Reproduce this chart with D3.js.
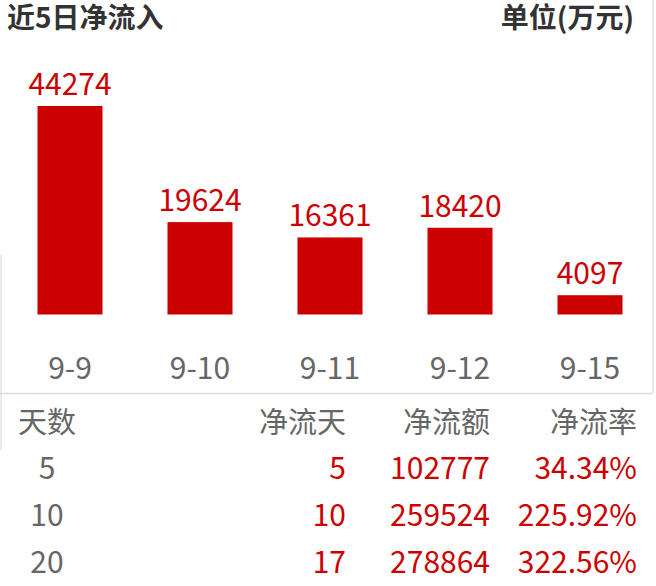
<!DOCTYPE html>
<html>
<head>
<meta charset="utf-8">
<script src="https://cdn.jsdelivr.net/npm/d3@7"></script>
<style>
  body { margin: 0; background: #fff; }
  svg { display: block; font-family: "Noto Sans CJK SC", "Noto Sans", sans-serif; }
</style>
</head>
<body>
<svg width="656" height="586"></svg>
<script>
var dates = ["9-9", "9-10", "9-11", "9-12", "9-15"];
var flows = [44274, 19624, 16361, 18420, 4097];

var headers = ["天数", "净流天", "净流额", "净流率"];
var days = ["5", "10", "20"];
var netDays = ["5", "10", "17"];
var amounts = ["102777", "259524", "278864"];
var rates = ["34.34%", "225.92%", "322.56%"];

var red = "#cc0000";
var svg = d3.select("svg");

// frame lines
svg.append("line").attr("x1", 653).attr("x2", 653).attr("y1", 0).attr("y2", 393)
  .attr("stroke", "#e3e3e3").attr("stroke-width", 1.5);
svg.append("line").attr("x1", 1).attr("x2", 1).attr("y1", 255).attr("y2", 450)
  .attr("stroke", "#e3e3e3").attr("stroke-width", 1.5);
svg.append("line").attr("x1", 0).attr("x2", 653).attr("y1", 393.5).attr("y2", 393.5)
  .attr("stroke", "#dddddd").attr("stroke-width", 1.5);

// titles
svg.append("text").attr("x", 7).attr("y", 28)
  .attr("font-size", 28).attr("font-weight", "bold").attr("fill", "#333")
  .text("近5日净流入");
svg.append("text").attr("x", 634).attr("y", 28).attr("text-anchor", "end")
  .attr("font-size", 28).attr("font-weight", "bold").attr("fill", "#333")
  .text("单位(万元)");

// bars
var base = 314.5;
var x = d3.scaleBand().domain(dates).range([5, 655]).paddingInner(0.5).paddingOuter(0.25);
var y = d3.scaleLinear().domain([0, d3.max(flows)]).range([base, 106]);

svg.selectAll("rect.bar").data(flows).enter().append("rect")
  .attr("class", "bar")
  .attr("x", function(d, i) { return x(dates[i]) })
  .attr("y", function(d) { return y(d) })
  .attr("width", x.bandwidth())
  .attr("height", function(d) { return base - y(d) })
  .attr("fill", red);

svg.selectAll("text.val").data(flows).enter().append("text")
  .attr("class", "val")
  .attr("x", function(d, i) { return x(dates[i]) + x.bandwidth() / 2 })
  .attr("y", function(d) { return y(d) - 11 })
  .attr("text-anchor", "middle")
  .attr("font-size", 30)
  .attr("fill", red)
  .text(function(d) { return d });

// x axis labels
var axis = svg.append("g").attr("transform", "translate(0,379)")
  .call(d3.axisBottom(x).tickSize(0).tickPadding(0));
axis.select(".domain").remove();
axis.selectAll("text")
  .attr("dy", 0)
  .attr("font-size", 30)
  .attr("font-family", "Noto Sans CJK SC")
  .attr("fill", "#666");

// table
var colX = [47, 346, 490, 637];
var rowY = [433, 479, 526, 573];
var anchors = ["middle", "end", "end", "end"];

svg.selectAll("text.head").data(headers).enter().append("text")
  .attr("class", "head")
  .attr("x", function(d, i) { return colX[i] })
  .attr("y", rowY[0])
  .attr("text-anchor", function(d, i) { return anchors[i] })
  .attr("font-size", 29)
  .attr("fill", "#666")
  .text(function(d) { return d });

var cols = [days, netDays, amounts, rates];
cols.forEach(function(col, c) {
  svg.selectAll("text.c" + c).data(col).enter().append("text")
    .attr("class", "c" + c)
    .attr("x", colX[c])
    .attr("y", function(d, r) { return rowY[r + 1] })
    .attr("text-anchor", anchors[c])
    .attr("font-size", 30)
    .attr("fill", c == 0 ? "#666" : red)
    .text(function(d) { return d });
});
</script>
</body>
</html>
